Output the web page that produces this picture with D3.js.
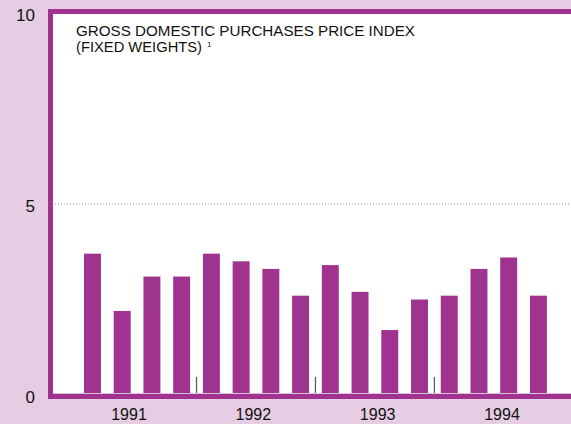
<!DOCTYPE html>
<html>
<head>
<meta charset="utf-8">
<script src="https://cdn.jsdelivr.net/npm/d3@7"></script>
<style>
  body { margin: 0; background: #e6cde4; }
  svg { display: block; font-family: "Liberation Sans", Arial, sans-serif; }
</style>
</head>
<body>
<div id="chart"></div>
<script>
// quarterly values, 1991 Q1 .. 1994 Q4
var quarters = ["1991Q1","1991Q2","1991Q3","1991Q4","1992Q1","1992Q2","1992Q3","1992Q4",
                "1993Q1","1993Q2","1993Q3","1993Q4","1994Q1","1994Q2","1994Q3","1994Q4"];
var values = [3.7, 2.2, 3.1, 3.1, 3.7, 3.5, 3.3, 2.6, 3.4, 2.7, 1.7, 2.5, 2.6, 3.3, 3.6, 2.6];
var years = ["1991", "1992", "1993", "1994"];
var yTicks = [0, 5, 10];

var W = 571, H = 424;
var purple = "#a0338f";

var svg = d3.select("#chart").append("svg")
    .attr("width", W)
    .attr("height", H);

// scales
var x = d3.scaleBand()
    .domain(quarters)
    .range([77.6, 553.3])
    .paddingInner(0.43)
    .paddingOuter(0.215);

var y = d3.scaleLinear()
    .domain([0, 10])
    .range([395, 13]);

var yearX = d3.scalePoint()
    .domain(years)
    .range([129, 502]);

// plot area
svg.append("rect")
    .attr("x", 48).attr("y", 10)
    .attr("width", W - 48).attr("height", 388)
    .style("fill", "white");

// dotted gridline at 5
svg.append("line")
    .attr("x1", 55).attr("x2", W)
    .attr("y1", y(5)).attr("y2", y(5))
    .style("stroke", "#999")
    .style("stroke-width", 1)
    .style("stroke-dasharray", "1,2");

// bars
svg.selectAll(".bar")
    .data(values)
    .enter().append("rect")
    .attr("class", "bar")
    .attr("x", function(d, i) { return x(quarters[i]); })
    .attr("width", x.bandwidth())
    .attr("y", function(d) { return y(d); })
    .attr("height", function(d) { return 396 - y(d); })
    .style("fill", purple);

// year separator ticks
var sepX = [quarters[4], quarters[8], quarters[12]].map(function(q) {
    return x(q) - x.step() * x.paddingInner() / 2;
});
svg.selectAll(".sep")
    .data(sepX)
    .enter().append("line")
    .attr("x1", function(d) { return d; })
    .attr("x2", function(d) { return d; })
    .attr("y1", 377).attr("y2", 394)
    .style("stroke", "#555")
    .style("stroke-width", 1.2);

// frame: top, left, bottom
svg.append("rect").attr("x", 48).attr("y", 9).attr("width", W - 48).attr("height", 5).style("fill", purple);
svg.append("rect").attr("x", 48).attr("y", 9).attr("width", 5).attr("height", 390).style("fill", purple);
svg.append("line").attr("x1", 53).attr("x2", W).attr("y1", 393.5).attr("y2", 393.5)
    .style("stroke", "#dcc0da").style("stroke-width", 1);
svg.append("rect").attr("x", 48).attr("y", 394).attr("width", W - 48).attr("height", 5).style("fill", purple);

// y labels
svg.selectAll(".ylab")
    .data(yTicks)
    .enter().append("text")
    .attr("x", 35)
    .attr("y", function(d) { return y(d) + 8; })
    .attr("text-anchor", "end")
    .style("font-size", "17px")
    .style("fill", "#111")
    .text(function(d) { return d; });

// year labels
svg.selectAll(".xlab")
    .data(years)
    .enter().append("text")
    .attr("x", function(d) { return yearX(d); })
    .attr("y", 420)
    .attr("text-anchor", "middle")
    .style("font-size", "16px")
    .style("fill", "#111")
    .text(function(d) { return d; });

// title
svg.append("text")
    .attr("x", 76).attr("y", 36)
    .style("font-size", "15px")
    .style("fill", "#111")
    .text("GROSS DOMESTIC PURCHASES PRICE INDEX")
    .attr("textLength", 339).attr("lengthAdjust", "spacingAndGlyphs");
var sub = svg.append("text")
    .attr("x", 76).attr("y", 52)
    .style("font-size", "15px")
    .style("fill", "#111");
sub.append("tspan")
    .text("(FIXED WEIGHTS)")
    .attr("textLength", 126).attr("lengthAdjust", "spacingAndGlyphs");
sub.append("tspan")
    .attr("dx", 5).attr("dy", -5)
    .style("font-size", "8px")
    .text("1");
</script>
</body>
</html>
